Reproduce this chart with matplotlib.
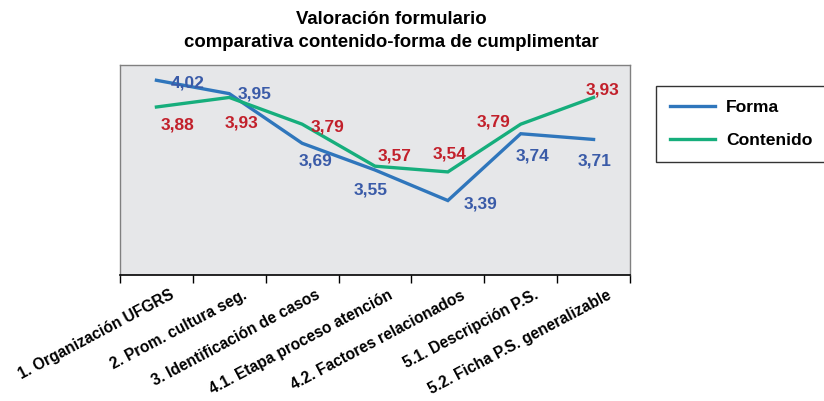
import matplotlib
matplotlib.use("Agg")
import matplotlib.pyplot as plt
import matplotlib.transforms as mtransforms

categories = ["1. Organización UFGRS", "2. Prom. cultura seg.", "3. Identificación de casos",
              "4.1. Etapa proceso atención", "4.2. Factores relacionados",
              "5.1. Descripción P.S.", "5.2. Ficha P.S. generalizable"]
forma = [4.02, 3.95, 3.69, 3.55, 3.39, 3.74, 3.71]
contenido = [3.88, 3.93, 3.79, 3.57, 3.54, 3.79, 3.93]

plt.rcParams['font.family'] = ['Liberation Sans', 'DejaVu Sans']
plt.rcParams['font.weight'] = 'bold'

fig = plt.figure(figsize=(8.24, 4.01), dpi=100)
ax = fig.add_axes([120/824, 1-275/401, 510/824, 210/401])
ax.set_facecolor('#E6E7E9')

x = list(range(len(categories)))
blue = '#2F76BC'
green = '#16AE7C'
ax.plot(x, forma, color=blue, lw=2.4, label='Forma', solid_joinstyle='miter')
ax.plot(x, contenido, color=green, lw=2.4, label='Contenido', solid_joinstyle='miter')

ax.set_xlim(-0.5, len(categories)-0.5)
ax.set_ylim(3.0, 4.1)

forma_off = [(31, -3), (25, 0), (13, -18), (-4, -20), (33, -3), (12, -22), (1, -22)]
cont_off = [(21, -18), (12, -26), (25, -3), (20, 10), (2, 18), (-27, 2), (9, 7)]
for i, v in enumerate(forma):
    ax.annotate(f"{v:.2f}".replace('.', ','), (x[i], v), xytext=forma_off[i],
                textcoords='offset pixels', ha='center', va='center',
                color='#3A5BA8', fontsize=12.5, fontweight='bold')
for i, v in enumerate(contenido):
    ax.annotate(f"{v:.2f}".replace('.', ','), (x[i], v), xytext=cont_off[i],
                textcoords='offset pixels', ha='center', va='center',
                color='#C2202B', fontsize=12.5, fontweight='bold')

ax.set_yticks([])
ax.set_xticks([i - 0.5 for i in range(len(categories)+1)], minor=False)
ax.set_xticklabels([])
ax.set_xticks(x, minor=True)
ax.set_xticklabels(categories, minor=True, rotation=28, ha='right',
                   rotation_mode='anchor', fontsize=11.2, fontweight='bold')
ax.tick_params(axis='x', which='major', length=6, width=1, direction='out', color='black')
ax.tick_params(axis='x', which='minor', length=0, pad=9)
for s in ['left', 'top', 'right']:
    ax.spines[s].set_color('#808080')
    ax.spines[s].set_linewidth(1)
ax.spines['bottom'].set_color('black')
ax.spines['bottom'].set_linewidth(1.2)

offset = mtransforms.ScaledTranslation(13/100, 0, fig.dpi_scale_trans)
for lab in ax.get_xticklabels(minor=True):
    lab.set_transform(lab.get_transform() + offset)

fig.text(391/824, 1-31/401, "Valoración formulario\ncomparativa contenido-forma de cumplimentar",
         ha='center', va='center', fontsize=13.4, fontweight='bold', linespacing=1.4)

leg = fig.legend(loc='center', bbox_to_anchor=(741/824, 1-124/401), frameon=True,
                 fancybox=False, edgecolor='black', fontsize=12.6, handlelength=2.6,
                 labelspacing=1.05, borderpad=0.8, handletextpad=0.6, borderaxespad=0)
leg.get_frame().set_linewidth(1)
for t in leg.get_texts():
    t.set_fontweight('bold')

fig.savefig('out.png', dpi=100)
